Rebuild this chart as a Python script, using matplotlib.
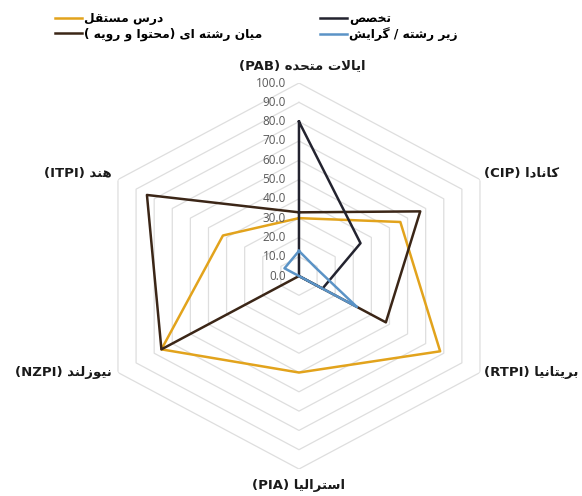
import re
import numpy as np
import matplotlib
matplotlib.use("Agg")
import matplotlib.pyplot as plt

# categories, clockwise from the top
categories = ["ایالات متحده (PAB)", "کانادا (CIP)", "بریتانیا (RTPI)",
              "استرالیا (PIA)", "نیوزلند (NZPI)", "هند (ITPI)"]

# series values
dars_mostaghel = [30, 56, 78, 50, 76, 42]     # درس مستقل
miyan_reshte = [33, 67, 48, 0, 76, 84]        # میان رشته ای
takhassos = [80, 34, 13, 0, 0, 0]             # تخصص
zir_reshte = [13, 9, 32, 0, 0, 8]             # زیر رشته / گرایش

series_names = ["درس مستقل", "میان رشته ای (محتوا و رویه )", "تخصص", "زیر رشته / گرایش"]
series_colors = ["#e2a31c", "#3b2617", "#23232f", "#5b93c6"]
ticks = [0, 10, 20, 30, 40, 50, 60, 70, 80, 90, 100]


# --- minimal arabic/persian shaping + rtl ordering (no raqm in matplotlib) ---
_DUAL = {'ب': 0xFE8F, 'ت': 0xFE95, 'ث': 0xFE99, 'ج': 0xFE9D, 'ح': 0xFEA1, 'خ': 0xFEA5,
         'س': 0xFEB1, 'ش': 0xFEB5, 'ص': 0xFEB9, 'ض': 0xFEBD, 'ط': 0xFEC1, 'ظ': 0xFEC5,
         'ع': 0xFEC9, 'غ': 0xFECD, 'ف': 0xFED1, 'ق': 0xFED5, 'ل': 0xFEDD, 'م': 0xFEE1,
         'ن': 0xFEE5, 'ه': 0xFEE9, 'ی': 0xFBFC, 'ک': 0xFB8E, 'گ': 0xFB92, 'پ': 0xFB56,
         'چ': 0xFB7A}
_RIGHT = {'ا': 0xFE8D, 'د': 0xFEA9, 'ذ': 0xFEAB, 'ر': 0xFEAD, 'ز': 0xFEAF, 'و': 0xFEED,
          'ژ': 0xFB8A}


def shape(s):
    out = []
    i = 0
    n = len(s)
    while i < n:
        c = s[i]
        if c not in _DUAL and c not in _RIGHT:
            out.append(c)
            i += 1
            continue
        prev_joins = i > 0 and s[i - 1] in _DUAL
        if c == 'ل' and i + 1 < n and s[i + 1] == 'ا':
            out.append(chr(0xFEFC if prev_joins else 0xFEFB))
            i += 2
            continue
        next_joins = c in _DUAL and i + 1 < n and (s[i + 1] in _DUAL or s[i + 1] in _RIGHT)
        base = _DUAL.get(c, _RIGHT.get(c))
        if prev_joins and next_joins:
            code = base + 3
        elif prev_joins:
            code = base + 1
        elif next_joins:
            code = base + 2
        else:
            code = base
        out.append(chr(code))
        i += 1
    return ''.join(out)


def rtl(text):
    runs = re.findall(r'[A-Za-z0-9]+|[^A-Za-z0-9]+', shape(text))
    vis = []
    for run in reversed(runs):
        if re.match(r'[A-Za-z0-9]', run):
            vis.append(run)
        else:
            vis.append(run[::-1].translate(str.maketrans('()', ')(')))
    return ''.join(vis)


plt.rcParams['font.family'] = ['DejaVu Sans']

fig = plt.figure(figsize=(5.82, 4.96), dpi=100)
ax = fig.add_axes([0.1546, 0.0544, 0.7182, 0.7782], projection='polar')
ax.set_theta_zero_location('N')
ax.set_theta_direction(-1)
ax.set_aspect('auto')
ax.set_ylim(0, 100)
ax.grid(False)
ax.spines['polar'].set_visible(False)
ax.set_xticks([])
ax.set_yticks([])
ax.patch.set_alpha(0)

theta = np.deg2rad(np.arange(len(categories)) * 60.0)
theta_c = np.append(theta, theta[0])

# hexagonal grid
for r in ticks[1:]:
    ax.plot(theta_c, [r] * len(theta_c), color='#dedede', lw=0.9, zorder=1)

all_series = [dars_mostaghel, miyan_reshte, takhassos, zir_reshte]
handles = []
for vals, name, col in zip(all_series, series_names, series_colors):
    v = np.append(vals, vals[0])
    line, = ax.plot(theta_c, v, color=col, lw=1.8, zorder=3)
    handles.append(line)

# radial tick labels left of the vertical axis
for t in ticks:
    ax.annotate(f"{t:.1f}", xy=(0, t), xytext=(-13, 0), textcoords='offset pixels',
                ha='right', va='center', fontsize=8.5, color='#595959',
                family='Open Sans', annotation_clip=False)

# category labels
label_pos = [((3, 17), 'center'), ((4, 6), 'left'), ((4, 0), 'left'),
             ((0, -16), 'center'), ((-6, 0), 'right'), ((-6, 6), 'right')]
for ang, lab, (off, ha) in zip(theta, categories, label_pos):
    ax.annotate(rtl(lab), xy=(ang, 100), xytext=off, textcoords='offset pixels',
                ha=ha, va='center', fontsize=9.5, fontweight='bold', color='#1a1a1a',
                annotation_clip=False)

fig.legend(handles, [rtl(n) for n in series_names], ncol=2, loc='upper left',
           bbox_to_anchor=(55 / 582, 1 - 12 / 496), frameon=False,
           prop={'size': 8.8, 'weight': 'bold'}, handlelength=2.2,
           handletextpad=0.2, columnspacing=4.7, labelspacing=0.2, borderpad=0,
           borderaxespad=0)

fig.savefig('out.png', dpi=100)
